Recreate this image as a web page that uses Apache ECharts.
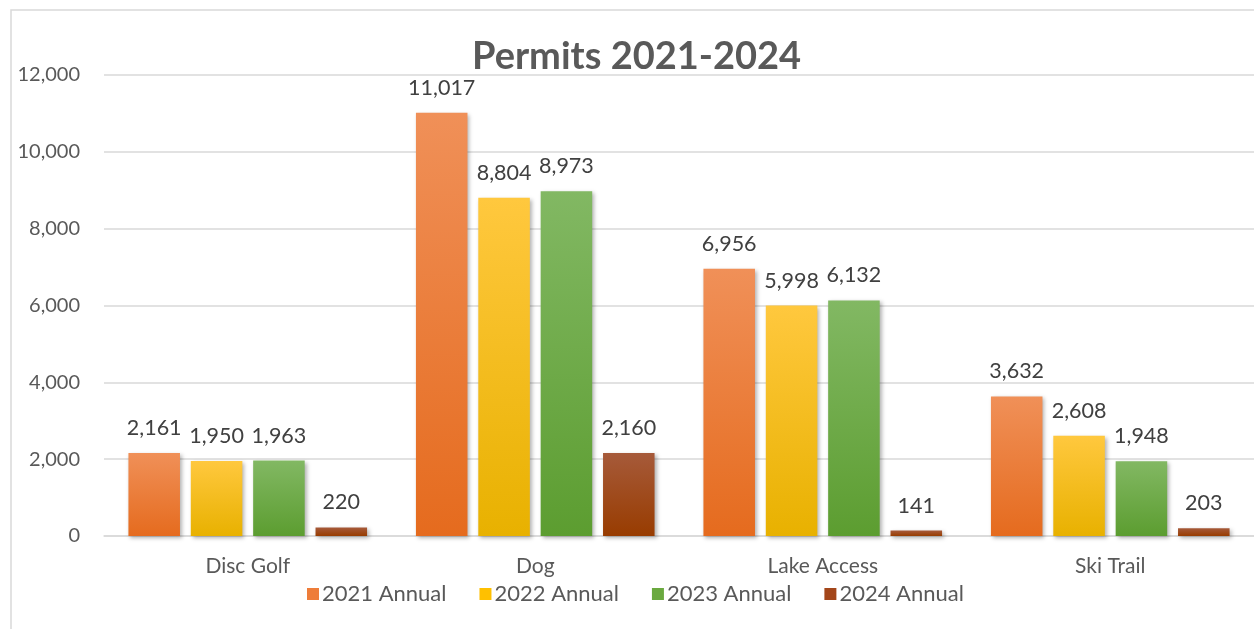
<!DOCTYPE html>
<html><head><meta charset="utf-8">
<script src="https://cdn.jsdelivr.net/npm/echarts@6/dist/echarts.min.js"></script>
<style>html,body{margin:0;padding:0;background:#fff}#c{width:1254px;height:629px}</style>
</head><body><div id="c"></div>
<script>
const categories = ['Disc Golf', 'Dog', 'Lake Access', 'Ski Trail'];
const seriesNames = ['2021 Annual', '2022 Annual', '2023 Annual', '2024 Annual'];
const v2021 = [2161, 11017, 6956, 3632];
const v2022 = [1950, 8804, 5998, 2608];
const v2023 = [1963, 8973, 6132, 1948];
const v2024 = [220, 2160, 141, 203];
const yTicks = [0, 2000, 4000, 6000, 8000, 10000, 12000];

const gradients = [
  ['#F09058', '#E56B1E'],
  ['#FFC83E', '#E8B100'],
  ['#82B863', '#5C9D30'],
  ['#A65A3A', '#983C00']
];
const legendColors = ['#EE7D3A', '#FFC000', '#6AA93F', '#A3461A'];
const allVals = [v2021, v2022, v2023, v2024];

const chart = echarts.init(document.getElementById('c'));
const fmt = v => v.toLocaleString('en-US');
chart.setOption({
  animation: false,
  textStyle: { fontFamily: 'Lato, "Open Sans", sans-serif' },
  title: {
    text: 'Permits 2021-2024', left: 467, top: 33,
    textStyle: { fontSize: 38, fontWeight: 'bold', color: '#595959', fontFamily: 'Lato, "Open Sans", sans-serif' }
  },
  graphic: [{
    type: 'rect', shape: { x: 11, y: 10, width: 1260, height: 640 },
    style: { fill: 'none', stroke: '#D9D9D9', lineWidth: 1.5 }, silent: true
  }],
  legend: {
    data: seriesNames.map((n, i) => ({ name: n, itemStyle: { color: legendColors[i] } })),
    bottom: 19, left: 302, itemWidth: 12, itemHeight: 12, itemGap: 33,
    icon: 'rect',
    textStyle: { fontSize: 22, color: '#595959', padding: [0, 0, 0, -2] }
  },
  grid: { left: 104, right: -5, top: 75, bottom: 93, containLabel: false },
  xAxis: {
    type: 'category', data: categories,
    axisLine: { lineStyle: { color: '#D9D9D9', width: 1.5 } },
    axisTick: { show: false },
    axisLabel: { fontSize: 21, color: '#595959', margin: 20 }
  },
  yAxis: {
    type: 'value', min: yTicks[0], max: yTicks[yTicks.length - 1], interval: 2000,
    axisLine: { show: false }, axisTick: { show: false },
    splitLine: { lineStyle: { color: '#D9D9D9', width: 1.5 } },
    axisLabel: { fontSize: 20, color: '#595959', margin: 24, formatter: v => fmt(v) }
  },
  series: allVals.map((vals, i) => ({
    name: seriesNames[i], type: 'bar', data: vals,
    barGap: '21%', barCategoryGap: '17%',
    itemStyle: {
      color: new echarts.graphic.LinearGradient(0, 0, 0, 1, [
        { offset: 0, color: gradients[i][0] }, { offset: 1, color: gradients[i][1] }
      ]),
      shadowBlur: 4, shadowColor: 'rgba(0,0,0,0.3)', shadowOffsetX: 2, shadowOffsetY: 2
    },
    label: {
      show: true, position: 'top', distance: 14, fontSize: 21.5, color: '#404040',
      formatter: p => fmt(p.value)
    }
  }))
});
</script></body></html>
